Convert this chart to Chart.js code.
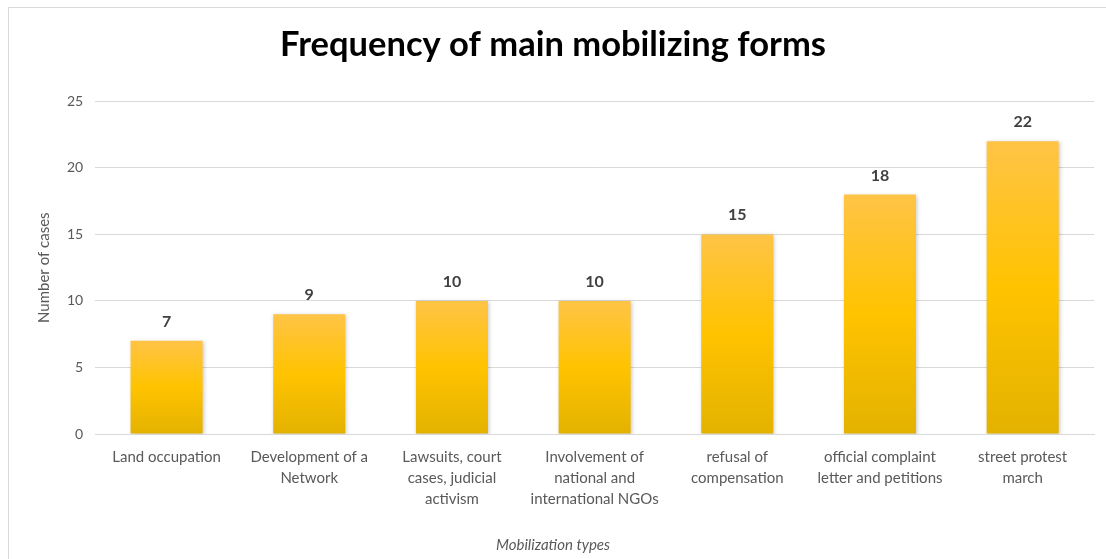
<!DOCTYPE html>
<html>
<head>
<meta charset="utf-8">
<script src="https://cdn.jsdelivr.net/npm/chart.js@4"></script>
<style>
  html,body{margin:0;padding:0;background:#fff;}
  #frame{position:absolute;left:8px;top:7px;width:1110px;height:570px;border:1px solid #d9d9d9;box-sizing:border-box;}
  #wrap{position:absolute;left:0;top:0;width:1106px;height:559px;}
</style>
</head>
<body>
<div id="frame"></div>
<div id="wrap"><canvas id="c" width="1106" height="559"></canvas></div>
<script>
const categories = [
  ['Land occupation'],
  ['Development of a','Network'],
  ['Lawsuits, court','cases, judicial','activism'],
  ['Involvement of','national and','international NGOs'],
  ['refusal of','compensation'],
  ['official complaint','letter and petitions'],
  ['street protest','march']
];
const cases = [7, 9, 10, 10, 15, 18, 22];
const yTicks = [0, 5, 10, 15, 20, 25];

const FONT = 'Lato, "Open Sans", sans-serif';

const valueLabels = {
  id: 'valueLabels',
  afterDatasetsDraw(chart) {
    const ctx = chart.ctx;
    const meta = chart.getDatasetMeta(0);
    ctx.save();
    ctx.font = 'bold 16px ' + FONT;
    ctx.fillStyle = '#404040';
    ctx.textAlign = 'center';
    ctx.textBaseline = 'alphabetic';
    meta.data.forEach((bar, i) => {
      ctx.fillText(String(cases[i]), bar.x, bar.y - 14);
    });
    ctx.restore();
  }
};

const barShadow = {
  id: 'barShadow',
  beforeDatasetsDraw(chart) {
    const ctx = chart.ctx;
    ctx.save();
    ctx.shadowColor = 'rgba(0,0,0,0.22)';
    ctx.shadowBlur = 4;
    ctx.shadowOffsetX = 1;
    ctx.shadowOffsetY = 1;
  },
  afterDatasetsDraw(chart) {
    chart.ctx.restore();
  }
};

new Chart(document.getElementById('c'), {
  type: 'bar',
  data: {
    labels: categories,
    datasets: [{
      data: cases,
      backgroundColor(context) {
        const chart = context.chart;
        const area = chart.chartArea;
        if (!area || !chart.scales.y) return '#FFC000';
        const v = context.parsed ? context.parsed.y : cases[context.dataIndex];
        const top = chart.scales.y.getPixelForValue(v);
        const bottom = area.bottom;
        if (!isFinite(top) || bottom - top < 1) return '#FFC000';
        const g = chart.ctx.createLinearGradient(0, top, 0, bottom);
        g.addColorStop(0, '#FFC446');
        g.addColorStop(0.5, '#FFC300');
        g.addColorStop(1, '#E3B200');
        return g;
      },
      borderWidth: 0,
      categoryPercentage: 1,
      barPercentage: 0.505
    }]
  },
  options: {
    responsive: false,
    animation: false,
    devicePixelRatio: 1,
    layout: { padding: { left: 12, right: 12, top: 14, bottom: 3 } },
    plugins: {
      legend: { display: false },
      tooltip: { enabled: false },
      title: {
        display: true,
        text: 'Frequency of main mobilizing forms',
        color: '#000',
        font: { family: FONT, size: 34.5, weight: 'bold' },
        padding: { top: 10, bottom: 36 }
      },
      subtitle: {
        display: true,
        position: 'bottom',
        text: 'Mobilization types',
        color: '#595959',
        font: { family: FONT, size: 15, style: 'italic' },
        padding: { top: 13, bottom: 2 }
      }
    },
    scales: {
      x: {
        grid: { display: false, drawTicks: false },
        border: { display: true, color: '#d9d9d9' },
        ticks: {
          color: '#595959',
          font: { family: FONT, size: 15, lineHeight: 1.4 },
          maxRotation: 0,
          autoSkip: false,
          padding: 13
        }
      },
      y: {
        min: 0,
        max: 25,
        afterBuildTicks(axis) { axis.ticks = yTicks.map(v => ({ value: v })); },
        grid: { color: '#d9d9d9', drawTicks: false },
        border: { display: false },
        ticks: {
          color: '#595959',
          font: { family: FONT, size: 14 },
          padding: 12
        },
        title: {
          display: true,
          text: 'Number of cases',
          color: '#595959',
          font: { family: FONT, size: 15 },
          padding: { top: 23, bottom: 2 }
        }
      }
    }
  },
  plugins: [barShadow, valueLabels]
});
</script>
</body>
</html>
